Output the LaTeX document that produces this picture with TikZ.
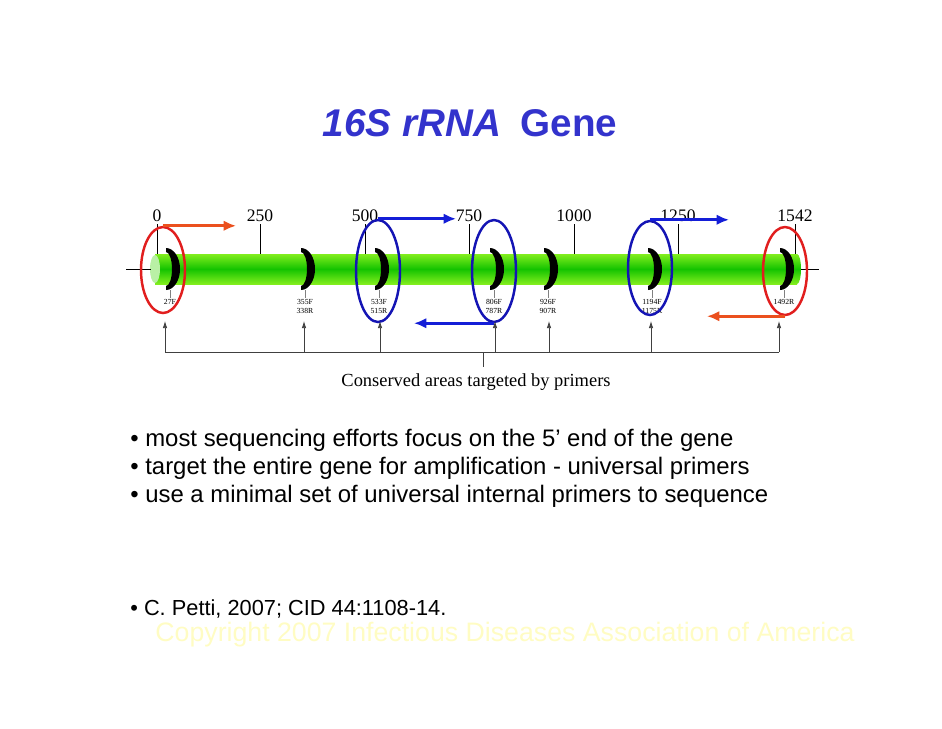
\documentclass[tikz,border=0pt]{standalone}
\usepackage{fontspec}
\setmainfont{Liberation Sans}
\newfontfamily\figfont{Liberation Serif}
\usetikzlibrary{arrows.meta, positioning, shapes.geometric}
\definecolor{titleblue}{RGB}{51,51,204}
\definecolor{ringred}{RGB}{225,30,30}
\definecolor{ringblue}{RGB}{20,20,180}
\definecolor{arrred}{RGB}{235,80,30}
\definecolor{arrblue}{RGB}{20,30,215}
\definecolor{genelight}{RGB}{130,238,30}
\definecolor{genedark}{RGB}{20,195,0}
\definecolor{capgreen}{RGB}{185,240,165}
\definecolor{paleyellow}{RGB}{255,252,195}

\tikzset{
  ticklabel/.style={font=\figfont\fontsize{10}{12}\selectfont, inner sep=1pt},
  primerlabel/.style={font=\figfont\fontsize{4.4}{5}\selectfont, align=center, inner sep=0.5pt},
  ringnode/.style={ellipse, draw, line width=1.4pt, inner sep=0pt, minimum width=0.88cm},
  primerarrow/.style={line width=1.7pt, -{Latex[length=7pt, width=6pt]}},
  bullettext/.style={font=\fontsize{13.6}{16}\selectfont, anchor=west, inner sep=0pt},
}

\begin{document}
\begin{tikzpicture}[x=0.02cm, y=-0.02cm]
    \useasboundingbox (0,0) rectangle (942,728);

    % Title
    \node[font=\bfseries\fontsize{22}{26}\selectfont, text=titleblue] (title) at (470,123)
      {\itshape 16S rRNA\upshape\hspace{0.5em}Gene};

    % Gene bar
    \shade[top color=genelight, bottom color=genelight, middle color=genedark]
      (155,254) rectangle (797,284);
    \shade[top color=genelight, bottom color=genelight, middle color=genedark]
      (797,269) ellipse [x radius=4, y radius=15];
    \fill[capgreen] (155,269) ellipse [x radius=5, y radius=14];
    \draw (126,269) -- (151,269);
    \draw (801,269) -- (819,269);

    % Scale ticks
    \foreach \pos/\val [count=\i] in {157/0, 260/250, 365/500, 469/750, 574/1000, 678/1250, 795/1542}{
      \node[ticklabel] (tk\i) at (\pos,216) {\val};
      \draw (tk\i.south) -- (\pos,254);
    }

    % Primer sites
    \foreach \pos/\lab [count=\i] in {170/27F, 305/{355F\\338R}, 379/{533F\\515R}, 494/{806F\\787R},
                                      548/{926F\\907R}, 652/{1194F\\1175R}, 784/1492R}{
      \fill[black] (\pos-4,248) arc[start angle=-90, end angle=90, x radius=14, y radius=21]
        -- (\pos-4,286) arc[start angle=90, end angle=-90, x radius=6, y radius=17] -- cycle;
      \node[primerlabel, anchor=north] (pr\i) at (\pos,298) {\lab};
      \draw[gray] (\pos,290) -- (pr\i.north);
    }

    % Highlighted primers
    \node[ringnode, draw=ringred, minimum height=1.72cm] (e1) at (163,270) {};
    \node[ringnode, draw=ringblue, minimum height=2.04cm] (e2) at (378,271) {};
    \node[ringnode, draw=ringblue, minimum height=2.04cm] (e3) at (494,271) {};
    \node[ringnode, draw=ringblue, minimum height=1.88cm] (e4) at (650,268) {};
    \node[ringnode, draw=ringred, minimum height=1.76cm] (e5) at (785,271) {};

    % Reading directions
    \coordinate (d1) at (236,0);
    \coordinate (d2) at (456,0);
    \coordinate (d3) at (414,0);
    \coordinate (d4) at (729,0);
    \coordinate (d5) at (707,0);
    \draw[primerarrow, arrred] (e1.north) -- (e1.north -| d1);
    \draw[primerarrow, arrblue] (e2.north) -- (e2.north -| d2);
    \draw[primerarrow, arrblue] (e3.south) -- (e3.south -| d3);
    \draw[primerarrow, arrblue] (e4.north) -- (e4.north -| d4);
    \draw[primerarrow, arrred] (e5.south) -- (e5.south -| d5);

    % Conserved areas bracket
    \draw[black!75] (165,352) -- (779,352);
    \foreach \x [count=\i] in {165, 304, 380, 495, 549, 651, 779}{
      \coordinate (ba\i) at (\x,352);
      \coordinate (bt\i) at (\x,321);
      \draw[black!75, -{Latex[length=4pt, width=2.5pt]}] (ba\i) -- (bt\i);
    }
    \node[font=\figfont\fontsize{10.5}{12}\selectfont] (cons) at (476,382)
      {Conserved areas targeted by primers};
    \coordinate (stem) at (483,352);
    \draw[black!75] (stem) -- (stem |- cons.north);

    % Notes
    \node[bullettext] (n1) at (130,440) {• most sequencing efforts focus on the 5’ end of the gene};
    \node[bullettext] (n2) at (130,468) {• target the entire gene for amplification - universal primers};
    \node[bullettext] (n3) at (130,496) {• use a minimal set of universal internal primers to sequence};

    % Reference
    \node[anchor=west, inner sep=0pt, font=\fontsize{12.4}{14}\selectfont] (cite) at (130,609)
      {• C. Petti, 2007; CID 44:1108-14.};
    \node[text=paleyellow, font=\fontsize{15.2}{18}\selectfont] (copy) at (505,635)
      {Copyright 2007 Infectious Diseases Association of America};
  \end{tikzpicture}
\end{document}
